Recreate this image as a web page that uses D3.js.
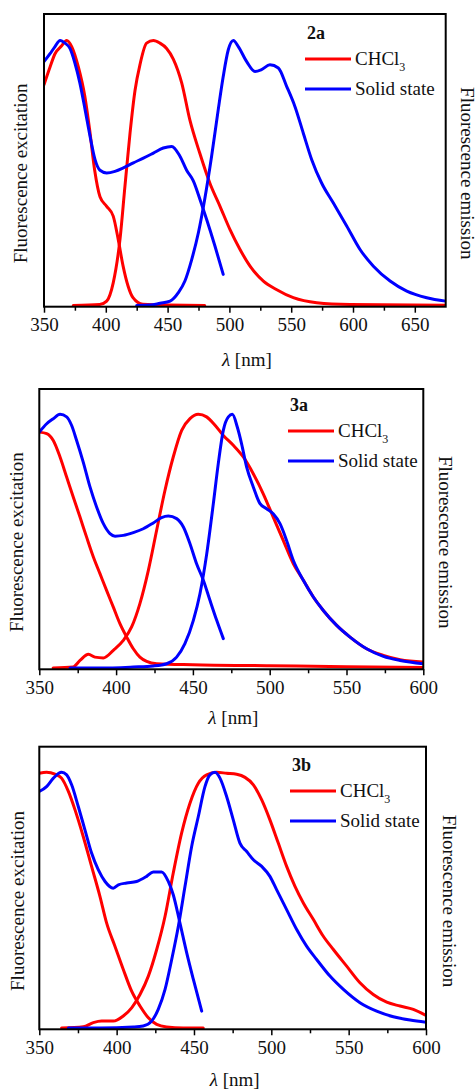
<!DOCTYPE html>
<html>
<head>
<meta charset="utf-8">
<script src="https://cdn.jsdelivr.net/npm/d3@7"></script>
<style>
  body { margin: 0; background: #fff; }
</style>
</head>
<body>
<div id="chart"></div>
<script>
// ---- data (normalised intensities) ----

// panel 2a
const wl_2a_chcl3_exc = [350,354.9,358.9,364.3,368.3,372.4,377.8,383,387,391,395.3,400.7,406,410,414,418,422,430,450,480];
const v_2a_chcl3_exc  = [0.833,0.90,0.95,0.98,1,0.977,0.90,0.79,0.66,0.51,0.41,0.374,0.337,0.25,0.148,0.073,0.029,0.004,0.001,0];
const wl_2a_chcl3_em  = [373.7,395,400.7,406,411.5,415.5,419.6,423.6,427.7,433,438.5,443.8,449.2,454.6,461.4,468,476,484.3,492.4,500.5,508.6,516.7,527.5,538,551.7,570.6,597.6,675];
const v_2a_chcl3_em   = [0,0.003,0.016,0.085,0.25,0.45,0.65,0.81,0.91,0.99,1,0.99,0.97,0.93,0.84,0.70,0.575,0.46,0.374,0.286,0.211,0.148,0.092,0.06,0.029,0.01,0.003,0];
const wl_2a_solid_exc = [350,354.9,358.9,363,367,371,375,379,383.2,387.2,391.3,395.3,400.7,407.4,414.2,422.3,430.4,438.5,446.5,453.3,460,465.4,470.8,476.2,481.6,488.3,495];
const v_2a_solid_exc  = [0.92,0.95,0.977,1,0.99,0.97,0.915,0.84,0.74,0.64,0.55,0.51,0.50,0.506,0.519,0.538,0.556,0.575,0.594,0.60,0.563,0.51,0.47,0.40,0.324,0.224,0.117];
const wl_2a_solid_em  = [425,435.8,443.9,452,458.7,464,469.5,474.9,480,485.6,491,495,499.1,503.2,507.2,514,520.7,526,532.8,539.6,546.3,553,559.8,566.6,574.6,584,594.9,605.7,616.5,630,643.5,659.6,675];
const v_2a_solid_em   = [0,0.001,0.008,0.016,0.048,0.092,0.173,0.274,0.40,0.563,0.74,0.864,0.965,1,0.977,0.92,0.883,0.89,0.908,0.896,0.827,0.751,0.65,0.55,0.462,0.387,0.30,0.211,0.148,0.092,0.054,0.029,0.016];

// panel 3a
const wl_3a_chcl3_exc = [350,354.8,359.1,363.5,367.8,372.1,376.5,380.8,385.2,389.5,393.8,398.2,402.5,406.9,411.2,415.5,419.9,426.4,450,500,550,600];
const v_3a_chcl3_exc  = [0.93,0.924,0.897,0.832,0.753,0.674,0.595,0.516,0.438,0.372,0.306,0.240,0.175,0.122,0.076,0.043,0.026,0.017,0.013,0.009,0.005,0.002];
const wl_3a_chcl3_em  = [359,372,376.5,382,386.2,391.7,398.2,404.7,410.1,415.5,421,426.4,431.8,437.2,442.7,448.1,453.5,458.9,464.4,469.8,476.3,482.8,489.3,495.8,502.3,508.8,515.4,521.9,528.4,534.9,543.6,552.3,563.1,574,584.9,600];
const v_3a_chcl3_em   = [0,0.004,0.03,0.054,0.043,0.04,0.07,0.109,0.162,0.254,0.385,0.543,0.70,0.832,0.937,0.983,1,0.99,0.957,0.917,0.878,0.832,0.766,0.687,0.595,0.503,0.411,0.346,0.28,0.227,0.168,0.122,0.076,0.05,0.033,0.024];
const wl_3a_solid_exc = [350,354.8,359.1,363.5,367.8,371,374.3,378.6,383,387.3,391.7,396,399.3,404.7,411.2,417.7,424.2,429.6,434,439.4,443.8,448.1,452.4,456.8,461.1,465.5,469.8];
const v_3a_solid_exc  = [0.93,0.963,0.983,1,0.99,0.957,0.897,0.812,0.714,0.635,0.569,0.53,0.52,0.523,0.534,0.549,0.572,0.593,0.599,0.589,0.556,0.49,0.411,0.346,0.267,0.188,0.116];
const wl_3a_solid_em  = [370,389.5,411.2,424.2,432.9,439.4,444.8,450.3,454.6,459,463.3,466.5,469.8,473.1,475.7,478.9,481.7,485,489.3,493.7,498,502.3,506.7,511,515.4,521.9,528.4,534.9,543.6,552.3,563.1,574,584.9,600];
const v_3a_solid_em   = [0,0,0.004,0.008,0.017,0.043,0.096,0.188,0.293,0.45,0.648,0.805,0.937,0.99,1,0.95,0.884,0.792,0.714,0.648,0.628,0.608,0.569,0.503,0.424,0.346,0.28,0.227,0.168,0.122,0.076,0.046,0.03,0.017];

// panel 3b
const wl_3b_chcl3_exc = [350,354.7,360.1,364.4,368.8,373.1,378.4,383.8,389.2,393.5,398.9,404.3,409.7,415.1,420.5,425.9,432.3,443.1,456];
const v_3b_chcl3_exc  = [0.996,1,0.993,0.977,0.925,0.853,0.749,0.632,0.515,0.411,0.32,0.229,0.144,0.086,0.04,0.014,0.004,0,0];
const wl_3b_chcl3_em  = [364.4,378.4,384.9,390.3,397.8,404.3,409.7,415.1,420.5,425.9,431.3,436.6,442,447.4,452.8,458.2,464.7,471.1,477.6,483,488.4,493.8,499.1,504.5,509.9,515.3,520.7,527.2,533.6,540.1,548.7,557.3,565.9,574.6,583.2,591.8,600];
const v_3b_chcl3_em   = [0,0.005,0.021,0.027,0.027,0.047,0.079,0.131,0.203,0.307,0.437,0.606,0.762,0.879,0.957,0.99,1,0.996,0.992,0.98,0.951,0.892,0.814,0.723,0.632,0.554,0.489,0.424,0.359,0.307,0.242,0.177,0.131,0.101,0.086,0.073,0.049];
const wl_3b_solid_exc = [350,354.7,359.1,364.4,367.7,370.9,375.2,379.5,383.8,388.1,392.5,397.8,401.1,406.5,412.9,419.4,423.7,429.1,433.4,436.6,440.9,445.3,449.6,455];
const v_3b_solid_exc  = [0.925,0.944,0.977,1,0.99,0.951,0.866,0.775,0.684,0.619,0.573,0.547,0.56,0.567,0.573,0.593,0.61,0.61,0.573,0.521,0.411,0.294,0.19,0.066];
const wl_3b_solid_em  = [368.8,389.2,410.8,417.2,422.6,426.9,431.3,435.6,439.9,444.2,448.5,452.8,457.1,460.3,463.6,466.8,471.1,475.4,479.7,484.1,488.4,493.8,499.1,503.4,509.9,516.4,522.8,529.3,537.9,546.6,557.3,568.1,578.9,589.7,600];
const v_3b_solid_em   = [0,0,0.004,0.008,0.027,0.073,0.151,0.268,0.398,0.554,0.71,0.827,0.944,0.99,1,0.977,0.905,0.814,0.723,0.69,0.658,0.632,0.593,0.541,0.463,0.385,0.32,0.268,0.203,0.151,0.099,0.066,0.044,0.031,0.023];

// tick labels
const ticks_2a = [350,400,450,500,550,600,650];
const ticks_3  = [350,400,450,500,550,600];
const legendLabels = ["CHCl", "Solid state"];
const yTitleLeft = "Fluorescence excitation";
const yTitleRight = "Fluorescence emission";

const RED = "#ff0000", BLUE = "#0000ff";
const FONT = "Liberation Serif, DejaVu Serif, serif";

const zip = (xs, ys) => xs.map((x, i) => ({x: x, y: ys[i]}));

const svg = d3.select("#chart").append("svg")
    .attr("width", 476)
    .attr("height", 1091)
    .attr("font-family", FONT);

svg.append("rect").attr("width", 476).attr("height", 1091).attr("fill", "#fff");

function addText(sel) {
    return sel.append("text").attr("font-family", FONT).attr("fill", "#111");
}

function drawPanel(p) {
    const g = svg.append("g");

    var x = d3.scaleLinear().domain(p.xDomain).range([p.left, p.right]);
    var y = d3.scaleLinear().domain([-0.005, 1.1]).range([p.bottom, p.top]);

    // clip curves to the frame
    const clipId = "clip-" + p.name;
    g.append("clipPath").attr("id", clipId)
      .append("rect")
        .attr("x", p.left).attr("y", p.top)
        .attr("width", p.right - p.left).attr("height", p.bottom - p.top);

    const line = d3.line()
        .x(d => x(d.x))
        .y(d => y(d.y))
        .curve(d3.curveMonotoneX);

    const curves = g.append("g").attr("clip-path", "url(#" + clipId + ")");
    p.series.forEach(s => {
        curves.append("path")
            .datum(s.data)
            .attr("d", line)
            .attr("fill", "none")
            .attr("stroke", s.color)
            .attr("stroke-width", 3)
            .attr("stroke-linejoin", "round")
            .attr("stroke-linecap", "round");
    });

    // frame
    g.append("rect")
        .attr("x", p.left).attr("y", p.top)
        .attr("width", p.right - p.left).attr("height", p.bottom - p.top)
        .attr("fill", "none")
        .attr("stroke", "#000")
        .attr("stroke-width", 2);

    // minor ticks
    const minor = d3.range(p.xDomain[0] + 25, p.xDomain[1], 50);
    g.append("g")
        .attr("transform", "translate(0," + p.bottom + ")")
        .call(d3.axisBottom(x).tickValues(minor).tickSize(4).tickFormat(""))
        .call(a => a.select(".domain").remove())
        .call(a => a.selectAll(".tick line").attr("stroke-width", 1.5));

    // major ticks + labels
    g.append("g")
        .attr("transform", "translate(0," + p.bottom + ")")
        .call(d3.axisBottom(x).tickValues(p.ticks).tickSize(6).tickPadding(5).tickFormat(d3.format("d")))
        .attr("font-family", FONT)
        .attr("font-size", 19)
        .call(a => a.select(".domain").remove())
        .call(a => a.selectAll(".tick line").attr("stroke-width", 1.5))
        .call(a => a.selectAll(".tick text").attr("fill", "#111"));

    // x title
    const xt = addText(g)
        .attr("x", (p.left + p.right) / 2 + 2)
        .attr("y", p.xTitleY)
        .attr("text-anchor", "middle")
        .attr("font-size", 19);
    xt.append("tspan").attr("font-style", "italic").text("λ");
    xt.append("tspan").text(" [nm]");

    // y titles
    addText(g)
        .attr("transform", "translate(" + p.leftTitleX + "," + ((p.top + p.bottom) / 2 + 13) + ") rotate(-90)")
        .attr("text-anchor", "middle")
        .attr("dominant-baseline", "central")
        .attr("font-size", 19)
        .text(yTitleLeft);
    addText(g)
        .attr("transform", "translate(" + p.rightTitleX + "," + ((p.top + p.bottom) / 2 + 13) + ") rotate(90)")
        .attr("text-anchor", "middle")
        .attr("dominant-baseline", "central")
        .attr("font-size", 19)
        .text(yTitleRight);

    // legend
    const lg = g.append("g").attr("transform", "translate(" + p.legend[0] + "," + p.legend[1] + ")");
    addText(lg)
        .attr("x", 2).attr("y", 0)
        .attr("font-weight", "bold")
        .attr("font-size", 18)
        .text(p.name);
    [RED, BLUE].forEach((c, i) => {
        const yy = 20 + i * 30;
        lg.append("line")
            .attr("x1", 0).attr("x2", 46)
            .attr("y1", yy).attr("y2", yy)
            .attr("stroke", c).attr("stroke-width", 3);
        const t = addText(lg)
            .attr("x", 50).attr("y", yy + 6)
            .attr("font-size", 19)
            .text(legendLabels[i]);
        if (i === 0) {
            t.append("tspan").attr("font-size", 12).attr("dy", 6).text("3");
        }
    });
}

drawPanel({
    name: "2a", xDomain: [350, 675], ticks: ticks_2a,
    left: 44, right: 445.7, top: 14, bottom: 306.7,
    xTitleY: 366, leftTitleX: 20, rightTitleX: 467,
    legend: [305, 39],
    series: [
        {color: RED, data: zip(wl_2a_chcl3_exc, v_2a_chcl3_exc)},
        {color: RED, data: zip(wl_2a_chcl3_em, v_2a_chcl3_em)},
        {color: BLUE, data: zip(wl_2a_solid_exc, v_2a_solid_exc)},
        {color: BLUE, data: zip(wl_2a_solid_em, v_2a_solid_em)}
    ]
});

drawPanel({
    name: "3a", xDomain: [350, 600], ticks: ticks_3,
    left: 39.3, right: 423.3, top: 389, bottom: 669.3,
    xTitleY: 724, leftTitleX: 16, rightTitleX: 445,
    legend: [288, 411],
    series: [
        {color: RED, data: zip(wl_3a_chcl3_exc, v_3a_chcl3_exc)},
        {color: RED, data: zip(wl_3a_chcl3_em, v_3a_chcl3_em)},
        {color: BLUE, data: zip(wl_3a_solid_exc, v_3a_solid_exc)},
        {color: BLUE, data: zip(wl_3a_solid_em, v_3a_solid_em)}
    ]
});

drawPanel({
    name: "3b", xDomain: [350, 600], ticks: ticks_3,
    left: 39.3, right: 426, top: 746.7, bottom: 1029.3,
    xTitleY: 1086, leftTitleX: 17, rightTitleX: 449,
    legend: [290, 771],
    series: [
        {color: RED, data: zip(wl_3b_chcl3_exc, v_3b_chcl3_exc)},
        {color: RED, data: zip(wl_3b_chcl3_em, v_3b_chcl3_em)},
        {color: BLUE, data: zip(wl_3b_solid_exc, v_3b_solid_exc)},
        {color: BLUE, data: zip(wl_3b_solid_em, v_3b_solid_em)}
    ]
});
</script>
</body>
</html>
